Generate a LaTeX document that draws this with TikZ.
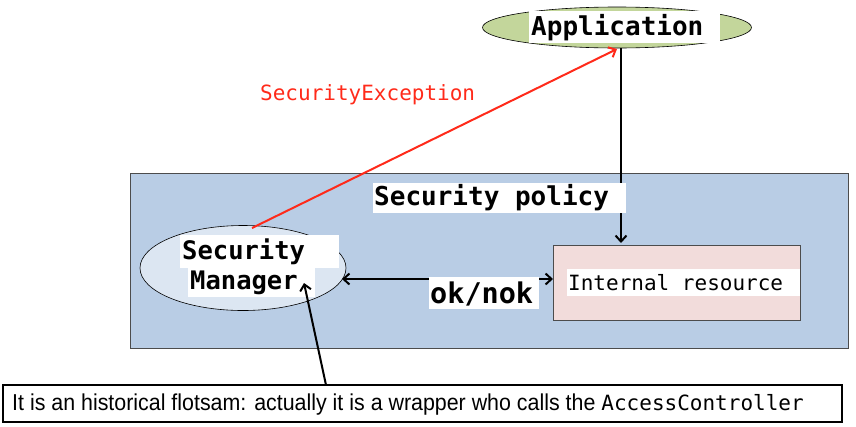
\documentclass[tikz,border=0pt]{standalone}
\usepackage{fontspec}
\setmonofont{DejaVu Sans Mono}
\newfontfamily\narrowsans[FakeStretch=0.93]{Liberation Sans}
\usetikzlibrary{arrows.meta,shapes.geometric}
\definecolor{appgreen}{HTML}{C3D69B}
\definecolor{polblue}{HTML}{B9CDE5}
\definecolor{smblue}{HTML}{DCE6F2}
\definecolor{respink}{HTML}{F2DCDB}
\definecolor{exred}{HTML}{FF2A1A}
\tikzset{
  whitelbl/.style={fill=white, inner sep=0pt, font=\ttfamily\bfseries\fontsize{26}{30}\selectfont},
  conn/.style={line width=2pt, -{Straight Barb[length=6pt,width=11pt]}},
}
\begin{document}
\begin{tikzpicture}[x=1pt,y=-1pt]
\useasboundingbox (0,0) rectangle (856,426);
% application
\node (app) [ellipse, draw=black, line width=0.6pt, fill=appgreen, minimum width=269pt, minimum height=41pt] at (617,27.5) {};
\node (applbl) [whitelbl, minimum width=191pt, minimum height=32pt] at (624.5,27) {};
\node (apptxt) [font=\ttfamily\bfseries\fontsize{26}{30}\selectfont, inner sep=0pt, anchor=west] at (531,28) {Application};
% policy area
\node (policy) [draw=black!70, line width=0.8pt, fill=polblue, minimum width=718pt, minimum height=175pt, inner sep=0pt] at (489,260.5) {};
% security manager
\node (sm) [ellipse, draw=black, line width=0.6pt, fill=smblue, minimum width=206pt, minimum height=85pt] at (243,268) {};
% internal resource
\node (res) [draw=black!70, line width=0.8pt, fill=respink, minimum width=247pt, minimum height=75pt, inner sep=0pt] at (676.5,282.5) {};
% connectors
\coordinate (apptop) at (621,48);
\coordinate (restop) at (621,243);
\draw[conn] (apptop) -- (restop);
\coordinate (smright) at (342,279);
\coordinate (resleft) at (553,279);
\draw[line width=2pt, {Straight Barb[length=6pt,width=11pt]}-{Straight Barb[length=6pt,width=11pt]}] (smright) -- (resleft);
\coordinate (smtop) at (252,228);
\coordinate (appbot) at (617,49);
\draw[conn, exred] (smtop) -- (appbot);
% labels
\node (pollbl) [whitelbl, minimum width=253pt, minimum height=30pt] at (499,198) {};
\node (poltxt) [font=\ttfamily\bfseries\fontsize{26}{30}\selectfont, inner sep=0pt, anchor=west] at (374,198) {Security policy};
\node (smlbl1) [whitelbl, minimum width=159pt, minimum height=33pt] at (259.5,251.5) {};
\node (smlbl2) [whitelbl, minimum width=127pt, minimum height=30pt] at (251.5,282) {};
\node (smtxt1) [font=\ttfamily\bfseries\fontsize{25.5}{30}\selectfont, inner sep=0pt, anchor=west] at (182,252) {Security};
\node (smtxt2) [font=\ttfamily\bfseries\fontsize{25.5}{30}\selectfont, inner sep=0pt, anchor=west] at (190,283) {Manager};
\node (reslbl) [whitelbl, minimum width=233pt, minimum height=27pt] at (683.5,282.5) {};
\node (restxt) [font=\ttfamily\fontsize{21}{25}\selectfont, inner sep=0pt, anchor=west] at (568,283) {Internal resource};
\node (oklbl) [whitelbl, minimum width=110pt, minimum height=32pt] at (484,293) {};
\node (oktxt) [font=\ttfamily\bfseries\fontsize{28.5}{30}\selectfont, inner sep=0pt, anchor=west] at (430,294) {ok/nok};
\node (exc) [font=\ttfamily\fontsize{21}{25}\selectfont, text=exred, inner sep=0pt, anchor=west] at (260,95) {SecurityException};
% note
\node (note) [draw=black, line width=1.2pt, fill=white, minimum width=839pt, minimum height=37pt, inner sep=0pt] at (422.5,403.5) {};
\node (notetxt) [inner sep=0pt, anchor=west] at (12,405) {\narrowsans\fontsize{23}{26}\selectfont It is an historical flotsam: actually it is a wrapper who calls the {\ttfamily\fontsize{21}{24}\selectfont AccessController}};
\coordinate (notetop) at (326,385);
\coordinate (smpoint) at (304,283);
\draw[conn] (notetop) -- (smpoint);
\end{tikzpicture}
\end{document}
